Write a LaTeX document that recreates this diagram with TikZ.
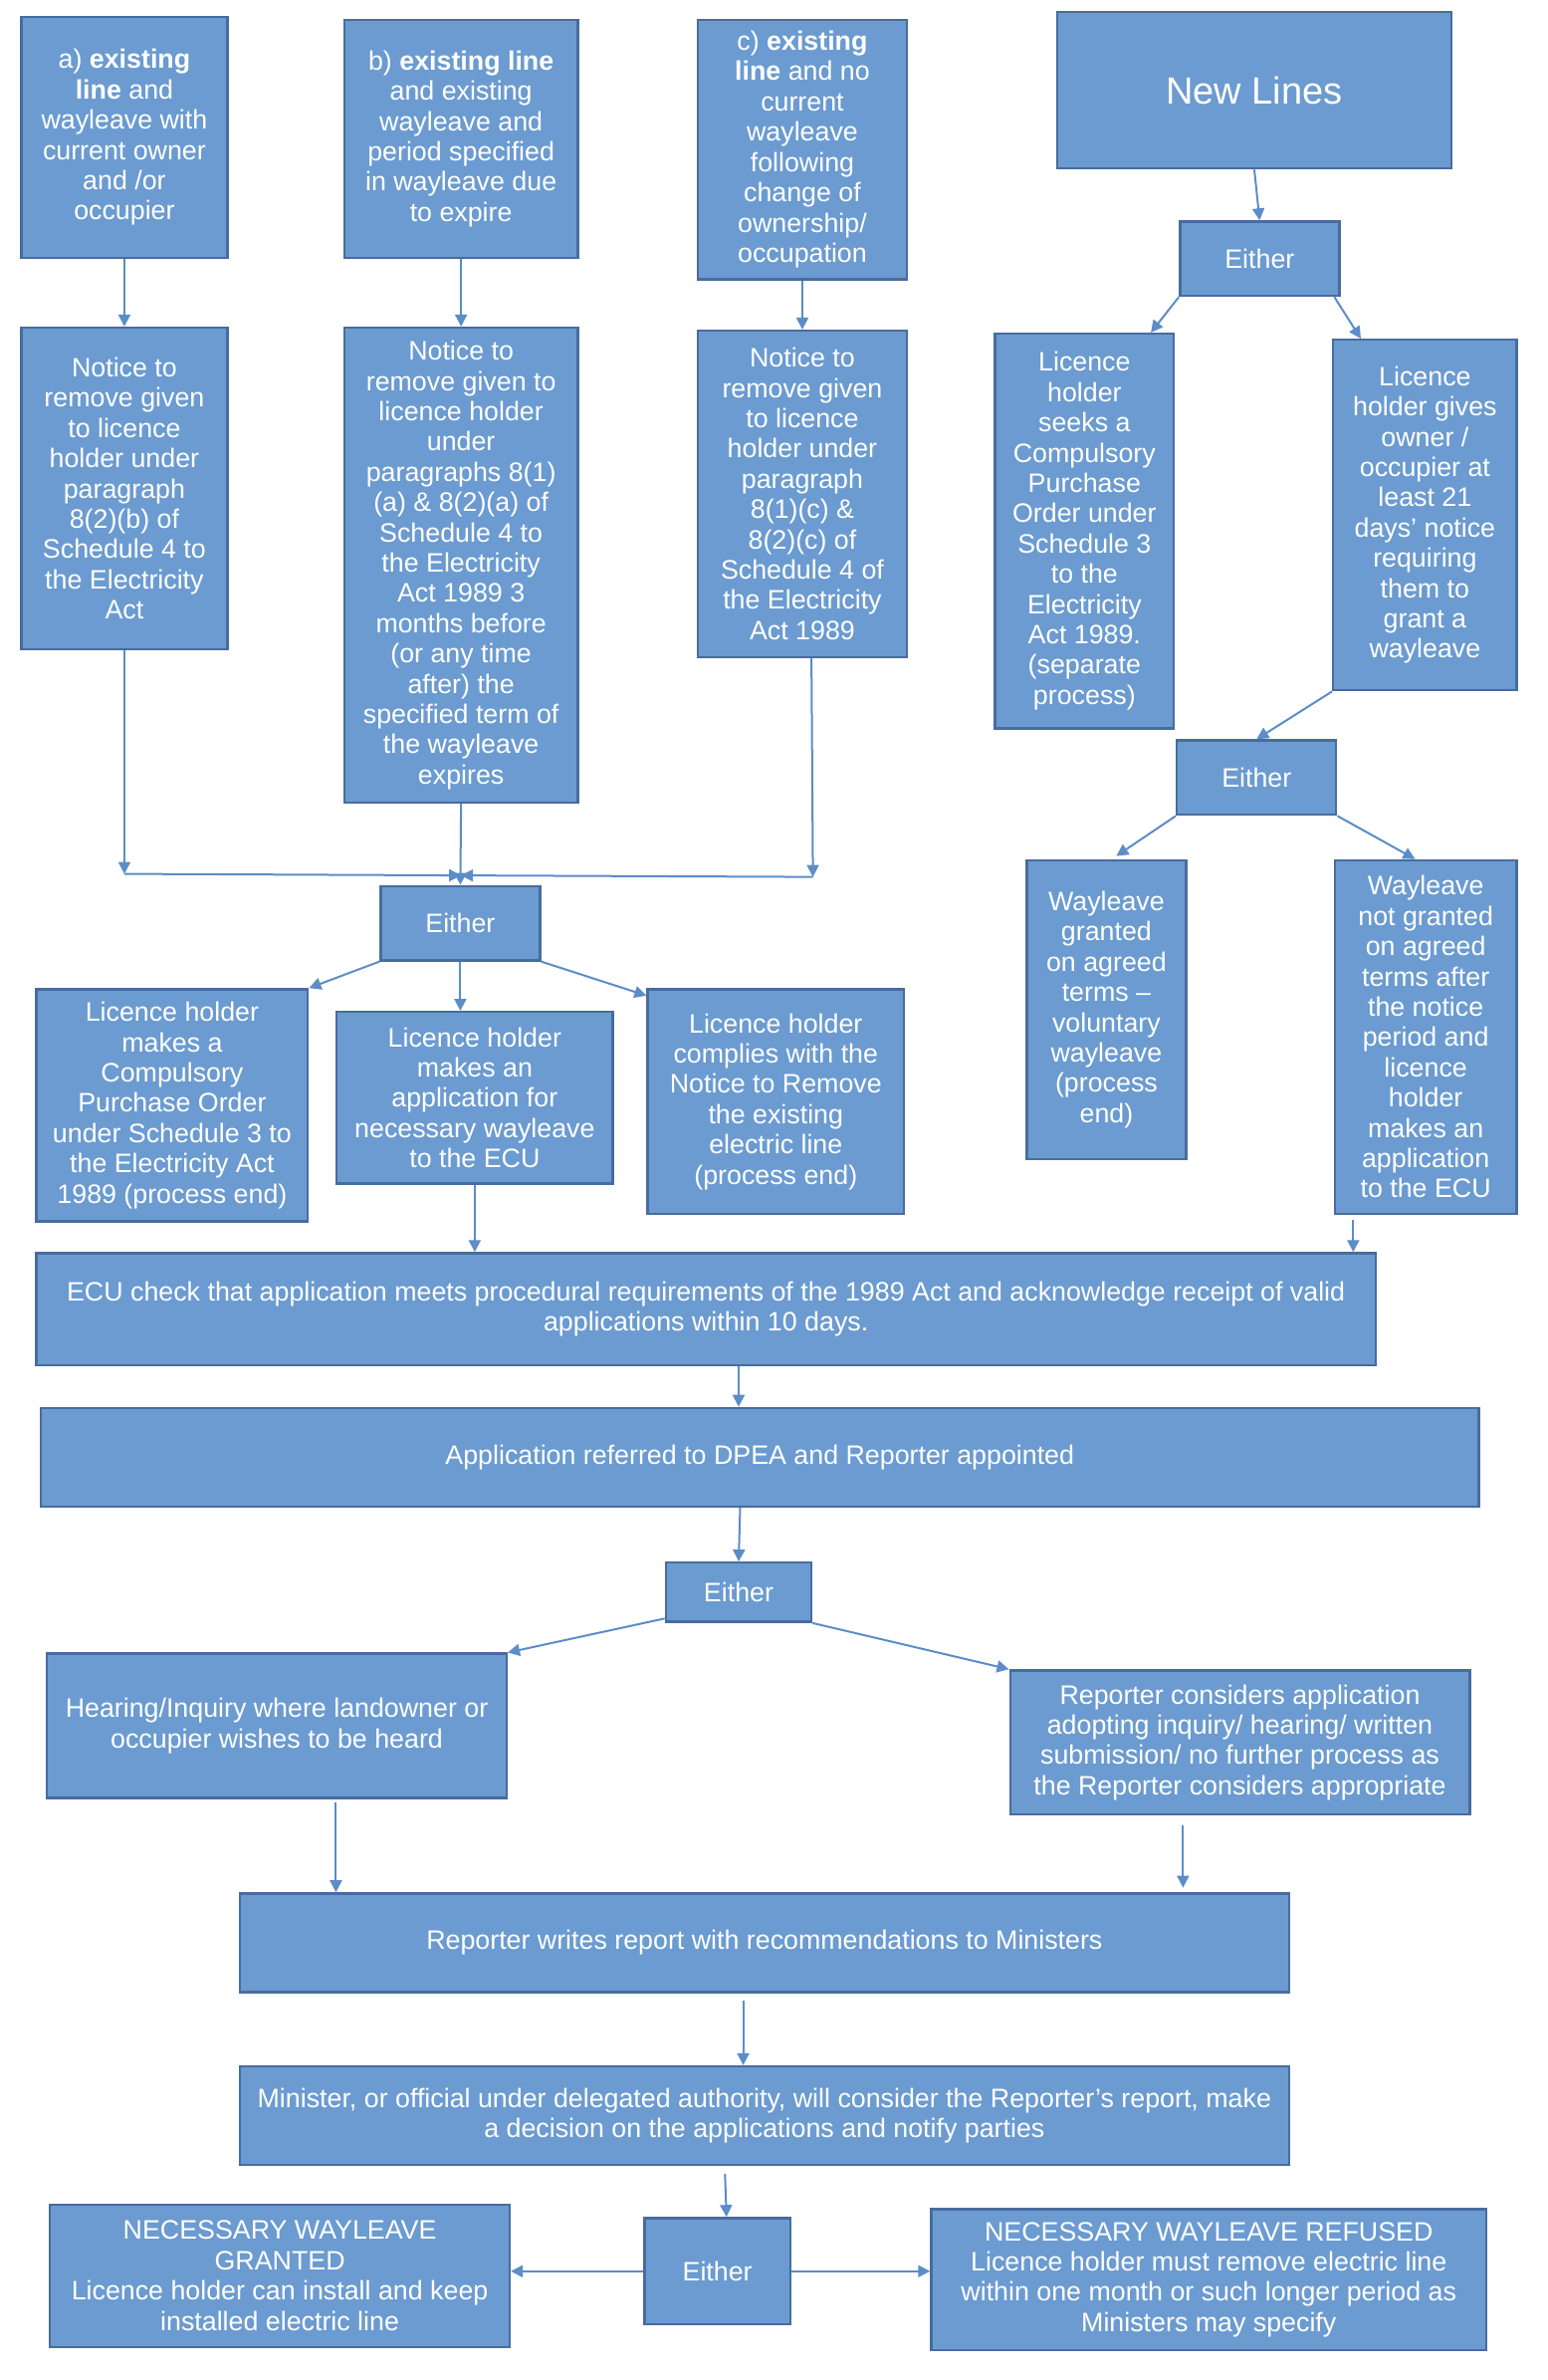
\documentclass[tikz,border=0pt]{standalone}
\usepackage{fontspec}
\setmainfont{Liberation Sans}
\usetikzlibrary{arrows.meta,calc}
\definecolor{boxfill}{RGB}{107,155,208}
\definecolor{boxborder}{RGB}{72,108,158}
\definecolor{conncol}{RGB}{91,141,200}
\newcommand{\bodyfont}{\fontsize{13.4}{15.2}\selectfont}
\newcommand{\bigfont}{\fontsize{19}{22}\selectfont}
\newcommand{\mybox}[7][]{\node[box,#1,minimum width={(#4-#2)*0.76175pt},minimum height={(#5-#3)*0.76175pt}] (#6) at ({(#2+#4)/2},{(#3+#5)/2}) {#7};}
\begin{document}
\begin{tikzpicture}[x=0.76175pt,y=-0.76175pt,
  box/.style={draw=boxborder,fill=boxfill,line width=1.2pt,text=white,align=center,inner sep=0pt,font=\bodyfont},
  conn/.style={draw=conncol,line width=1pt,-{Triangle[length=6pt,width=6pt]}}]
\useasboundingbox (0,0) rectangle (1020,1568.7);
\fill[white] (0,0) rectangle (1020,1568.7);

\mybox{14}{11}{150}{170}{a}{a) \textbf{existing}\\ \textbf{line} and\\ wayleave with\\ current owner\\ and /or\\ occupier}
\mybox{227}{13}{381}{170}{b}{b) \textbf{existing line}\\ and existing\\ wayleave and\\ period specified\\ in wayleave due\\ to expire}
\mybox{460}{13}{598}{184}{c}{c) \textbf{existing}\\ \textbf{line} and no\\ current\\ wayleave\\ following\\ change of\\ ownership/\\ occupation}
\mybox[font=\bigfont]{697}{8}{957}{111}{nl}{New Lines}
\mybox{778}{146}{883}{195}{enl}{Either}
\mybox{656}{220}{774}{480}{cpo}{Licence\\ holder\\ seeks a\\ Compulsory\\ Purchase\\ Order under\\ Schedule 3\\ to the\\ Electricity\\ Act 1989.\\ (separate\\ process)}
\mybox{879}{224}{1000}{455}{gives}{Licence\\ holder gives\\ owner /\\ occupier at\\ least 21\\ days’ notice\\ requiring\\ them to\\ grant a\\ wayleave}
\mybox{776}{488}{881}{537}{etwo}{Either}
\mybox{677}{567}{782}{764}{wg}{Wayleave\\ granted\\ on agreed\\ terms –\\ voluntary\\ wayleave\\ (process\\ end)}
\mybox{880}{567}{1000}{800}{wng}{Wayleave\\ not granted\\ on agreed\\ terms after\\ the notice\\ period and\\ licence\\ holder\\ makes an\\ application\\ to the ECU}
\mybox{14}{216}{150}{428}{na}{Notice to\\ remove given\\ to licence\\ holder under\\ paragraph\\ 8(2)(b) of\\ Schedule 4 to\\ the Electricity\\ Act}
\mybox{227}{216}{381}{529}{nb}{Notice to\\ remove given to\\ licence holder\\ under\\ paragraphs 8(1)\\ (a) \& 8(2)(a) of\\ Schedule 4 to\\ the Electricity\\ Act 1989 3\\ months before\\ (or any time\\ after) the\\ specified term of\\ the wayleave\\ expires}
\mybox{460}{218}{598}{433}{nc}{Notice to\\ remove given\\ to licence\\ holder under\\ paragraph\\ 8(1)(c) \&\\ 8(2)(c) of\\ Schedule 4 of\\ the Electricity\\ Act 1989}
\mybox{251}{584}{356}{633}{em}{Either}
\mybox{24}{652}{203}{805}{cpotwo}{Licence holder\\ makes a\\ Compulsory\\ Purchase Order\\ under Schedule 3 to\\ the Electricity Act\\ 1989 (process end)}
\mybox{222}{667}{404}{780}{app}{Licence holder\\ makes an\\ application for\\ necessary wayleave\\ to the ECU}
\mybox{427}{652}{596}{800}{comp}{Licence holder\\ complies with the\\ Notice to Remove\\ the existing\\ electric line\\ (process end)}
\mybox{24}{826}{907}{900}{ecu}{ECU check that application meets procedural requirements of the 1989 Act and acknowledge receipt of valid\\ applications within 10 days.}
\mybox{27}{928}{975}{993}{dpea}{Application referred to DPEA and Reporter appointed}
\mybox{439}{1030}{535}{1069}{ethree}{Either}
\mybox{31}{1090}{334}{1185}{hear}{Hearing/Inquiry where landowner or\\ occupier wishes to be heard}
\mybox{666}{1101}{969}{1196}{rc}{Reporter considers application\\ adopting inquiry/ hearing/ written\\ submission/ no further process as\\ the Reporter considers appropriate}
\mybox{158}{1248}{850}{1313}{rw}{Reporter writes report with recommendations to Ministers}
\mybox{158}{1362}{850}{1427}{mini}{Minister, or official under delegated authority, will consider the Reporter's report, make\\ a decision on the applications and notify parties}
\mybox{425}{1462}{521}{1532}{efour}{Either}
\mybox{33}{1453}{336}{1547}{gr}{NECESSARY WAYLEAVE\\ GRANTED\\ Licence holder can install and keep\\ installed electric line}
\mybox{614}{1456}{980}{1549}{rf}{NECESSARY WAYLEAVE REFUSED\\ Licence holder must remove electric line\\ within one month or such longer period as\\ Ministers may specify}

% connectors
\draw[conn] (a.south) -- (na.north);
\draw[conn] (b.south) -- (nb.north);
\draw[conn] (c.south) -- (nc.north);
\draw[conn] (nl.south) -- (enl.north);
\draw[conn] (enl.south west) -- ($(cpo.north east)+(-16,0)$);
\draw[conn] ($(enl.south east)+(-4,0)$) -- ($(gives.north west)+(19,0)$);
\draw[conn] (gives.south west) -- (etwo.north);
\draw[conn] (etwo.south west) -- ($(wg.north)+(6.5,-2)$);
\draw[conn] (etwo.south east) -- ($(wng.north)+(-7,0)$);

\coordinate (m1) at (82,576);
\coordinate (m3) at (536,578);
\coordinate (mid) at (304,577);
\draw[conn] (na.south) -- (m1);
\draw[conn] ($(nc.south)+(6,0)$) -- (m3);
\draw[conn] (m1) -- (mid);
\draw[conn] (m3) -- (mid);
\draw[conn] (nb.south) -- (em.north);

\draw[conn] (em.south west) -- (cpotwo.north east);
\draw[conn] (em.south) -- (em.south |- app.north);
\draw[conn] (em.south east) -- ($(comp.north west)+(0,5)$);

\draw[conn] (app.south) -- (app.south |- ecu.north);
\coordinate (w1) at ($(wng.south west)+(13,3)$);
\draw[conn] (w1) -- (w1 |- ecu.north);
\coordinate (e1) at ($(ecu.south)+(21.5,0)$);
\draw[conn] (e1) -- (e1 |- dpea.north);
\draw[conn] ($(dpea.south)+(-13,0)$) -- (ethree.north);
\draw[conn] ($(ethree.south west)+(0,-3)$) -- (hear.north east);
\draw[conn] (ethree.south east) -- (rc.north west);
\coordinate (h1) at ($(hear.south)+(39,2)$);
\draw[conn] (h1) -- (h1 |- rw.north);
\coordinate (r1) at ($(rc.south)+(-37.5,6)$);
\draw[conn] (r1) -- ($(r1 |- rw.north)+(0,-3)$);
\coordinate (r2) at ($(rw.south)+(-14,5)$);
\draw[conn] (r2) -- (r2 |- mini.north);
\coordinate (r3) at ($(mini.south)+(-26,5)$);
\draw[conn] (r3) -- ($(efour.north)+(6,0)$);
\draw[conn] (efour.west) -- (efour.west -| gr.east);
\draw[conn] (efour.east) -- (efour.east -| rf.west);
\end{tikzpicture}
\end{document}
